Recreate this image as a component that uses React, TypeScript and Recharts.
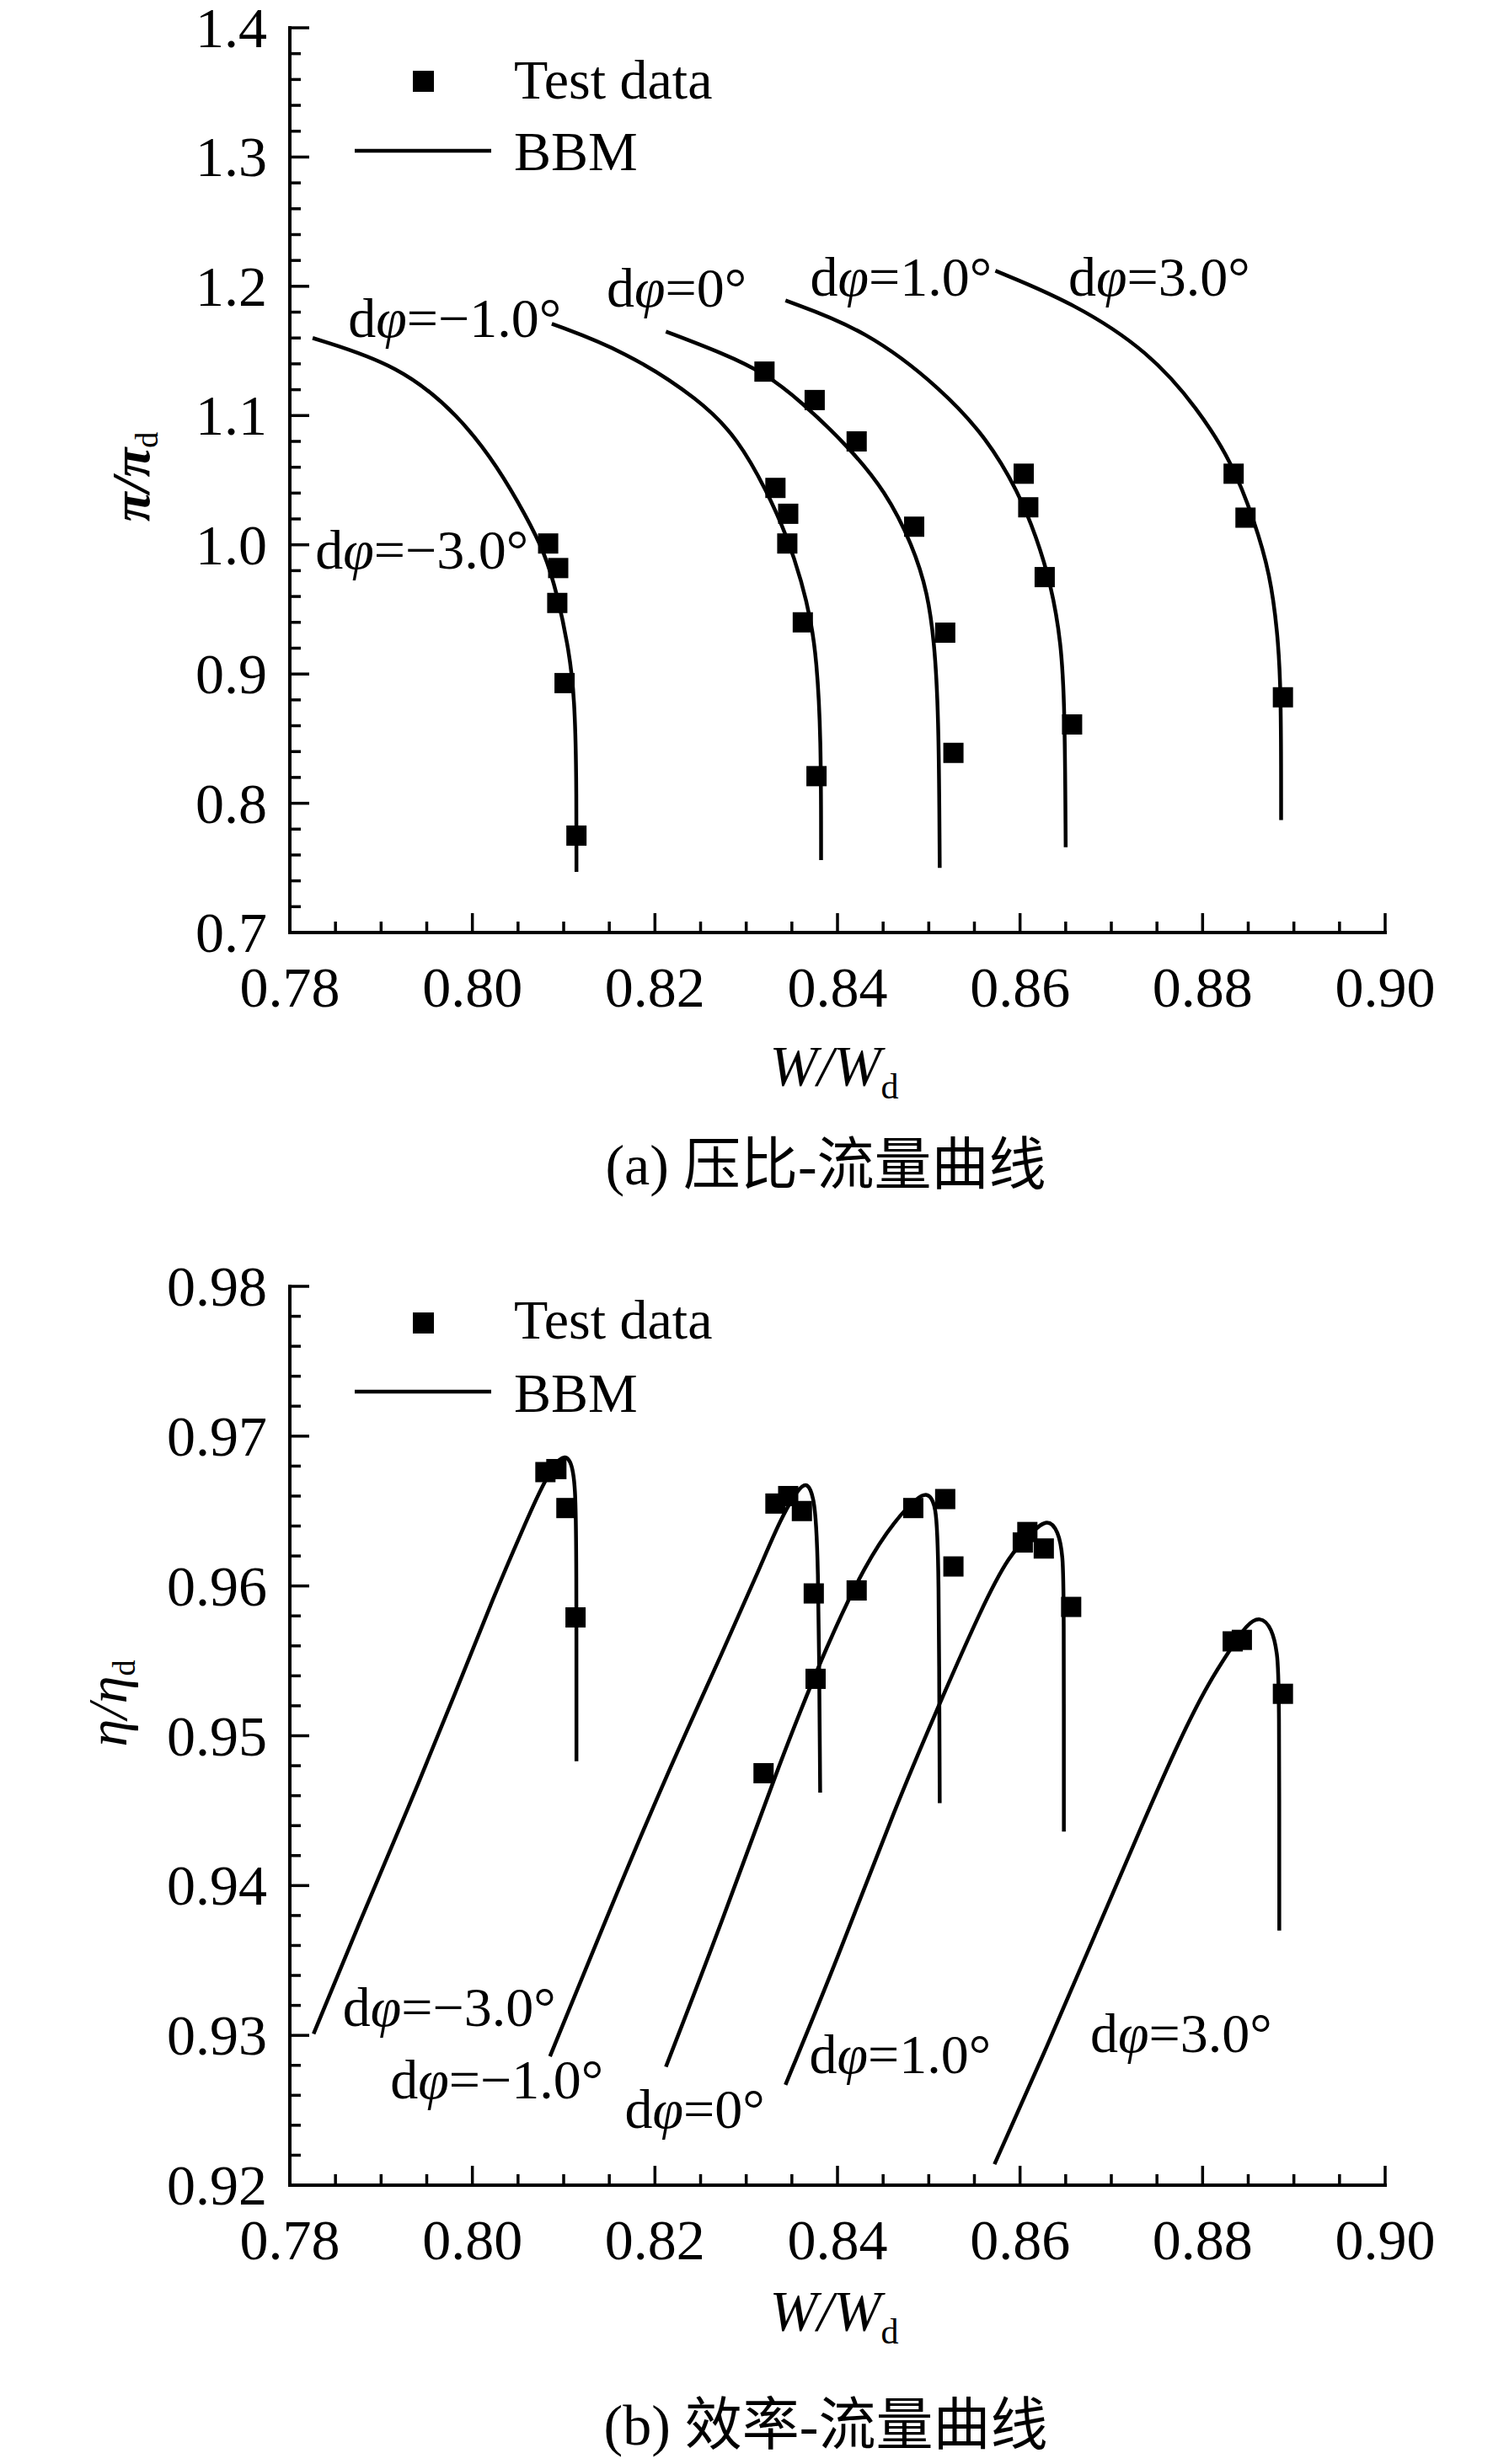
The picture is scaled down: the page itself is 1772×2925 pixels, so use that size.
import React from 'react';
import { ComposedChart, Line, Scatter, XAxis, YAxis, Legend, ReferenceDot } from 'recharts';

const SERIF = "'Liberation Serif', 'Times New Roman', serif";
const CAPTION_FONT = "'Liberation Serif', 'Noto Sans CJK SC', serif";

// axis tick labels
const FLOW_TICKS = [0.78, 0.8, 0.82, 0.84, 0.86, 0.88, 0.9];
const PR_TICKS = [0.7, 0.8, 0.9, 1.0, 1.1, 1.2, 1.3, 1.4];
const EFF_TICKS = [0.92, 0.93, 0.94, 0.95, 0.96, 0.97, 0.98];

// blade angle offsets, same order as the series below
const ANGLES = ['−3.0', '−1.0', '0', '1.0', '3.0'];

// (a) pressure ratio vs flow — BBM curves [W/Wd, π/πd]
const PR_BBM_M3 = [[0.7825, 1.16], [0.792, 1.139], [0.7986, 1.0995], [0.8028, 1.06], [0.8059, 1.022], [0.8079, 0.994], [0.8093, 0.962], [0.8106, 0.918], [0.8112, 0.881], [0.8114, 0.823], [0.8114, 0.747]];
const PR_BBM_M1 = [[0.8087, 1.171], [0.8167, 1.15], [0.825, 1.112], [0.8291, 1.082], [0.8323, 1.041], [0.8345, 1.006], [0.8361, 0.971], [0.8371, 0.941], [0.8377, 0.912], [0.8382, 0.853], [0.8382, 0.756]];
const PR_BBM_0 = [[0.8212, 1.165], [0.8275, 1.148], [0.832, 1.133], [0.836, 1.111], [0.8412, 1.076], [0.8453, 1.041], [0.8482, 1.0], [0.8499, 0.963], [0.8507, 0.919], [0.8511, 0.861], [0.8512, 0.75]];
const PR_BBM_P1 = [[0.8343, 1.189], [0.8432, 1.166], [0.8515, 1.12], [0.8564, 1.082], [0.8598, 1.041], [0.8618, 1.006], [0.8634, 0.969], [0.8645, 0.925], [0.8649, 0.875], [0.865, 0.766]];
const PR_BBM_P3 = [[0.8573, 1.212], [0.8659, 1.187], [0.8742, 1.149], [0.8795, 1.105], [0.8832, 1.064], [0.8857, 1.018], [0.8874, 0.977], [0.8882, 0.933], [0.8886, 0.89], [0.8886, 0.787]];

// (a) test data
const PR_TEST_M3 = [[0.8083, 1.001], [0.8094, 0.982], [0.8093, 0.955], [0.8101, 0.893], [0.8114, 0.775]];
const PR_TEST_M1 = [[0.8332, 1.044], [0.8346, 1.024], [0.8345, 1.001], [0.8362, 0.94], [0.8377, 0.821]];
const PR_TEST_0 = [[0.832, 1.134], [0.8375, 1.112], [0.8421, 1.08], [0.8484, 1.014], [0.8518, 0.932], [0.8527, 0.839]];
const PR_TEST_P1 = [[0.8604, 1.055], [0.8609, 1.029], [0.8627, 0.975], [0.8657, 0.861]];
const PR_TEST_P3 = [[0.8834, 1.055], [0.8847, 1.021], [0.8888, 0.882]];

// (b) efficiency vs flow — BBM curves [W/Wd, η/ηd]
const EFF_BBM_M3 = [[0.7826, 0.9301], [0.7878, 0.9378], [0.793, 0.9452], [0.7983, 0.9531], [0.8024, 0.9594], [0.8056, 0.9639], [0.8077, 0.9668], [0.8097, 0.9688], [0.8108, 0.9685], [0.8113, 0.9668], [0.8114, 0.9621], [0.8114, 0.9483]];
const EFF_BBM_M1 = [[0.8085, 0.9286], [0.815, 0.9383], [0.8212, 0.9473], [0.8275, 0.9557], [0.8317, 0.9615], [0.8337, 0.9644], [0.8358, 0.9666], [0.8367, 0.9669], [0.8374, 0.966], [0.8379, 0.9631], [0.8381, 0.9462]];
const EFF_BBM_0 = [[0.8212, 0.9279], [0.8275, 0.9378], [0.8337, 0.9483], [0.839, 0.9563], [0.8431, 0.9615], [0.8463, 0.9644], [0.8489, 0.966], [0.8499, 0.9662], [0.8508, 0.9655], [0.8511, 0.9621], [0.8512, 0.9455]];
const EFF_BBM_P1 = [[0.8343, 0.9267], [0.84, 0.9351], [0.8463, 0.9452], [0.8515, 0.9526], [0.8557, 0.9584], [0.8588, 0.9621], [0.8615, 0.9637], [0.863, 0.9645], [0.8642, 0.9637], [0.8647, 0.962], [0.8648, 0.9595], [0.8648, 0.9436]];
const EFF_BBM_P3 = [[0.8572, 0.9214], [0.863, 0.9293], [0.8682, 0.9367], [0.8734, 0.9441], [0.8776, 0.9499], [0.8807, 0.9536], [0.8833, 0.956], [0.8848, 0.9574], [0.8863, 0.958], [0.8876, 0.9572], [0.8882, 0.9555], [0.8884, 0.9535], [0.8884, 0.937]];

// (b) test data
const EFF_TEST_M3 = [[0.808, 0.9676], [0.8092, 0.9678], [0.8103, 0.9652], [0.8113, 0.9579]];
const EFF_TEST_M1 = [[0.8332, 0.9655], [0.8346, 0.966], [0.8361, 0.965], [0.8374, 0.9595], [0.8376, 0.9538], [0.8319, 0.9475]];
const EFF_TEST_0 = [[0.8421, 0.9597], [0.8483, 0.9652], [0.8518, 0.9658], [0.8527, 0.9613]];
const EFF_TEST_P1 = [[0.8603, 0.9629], [0.8608, 0.9636], [0.8626, 0.9625], [0.8656, 0.9586]];
const EFF_TEST_P3 = [[0.8833, 0.9563], [0.8843, 0.9564], [0.8888, 0.9528]];

// where the dφ labels sit (left edge, vertical middle), in data units
const PR_LABEL_POS = [[0.7828, 0.992], [0.7864, 1.1715], [0.8147, 1.195], [0.837, 1.203], [0.8653, 1.203]];
const EFF_LABEL_POS = [[0.7858, 0.9315], [0.791, 0.9267], [0.8167, 0.9247], [0.8369, 0.9284], [0.8677, 0.9298]];

const toPts = (rows: number[][]) => rows.map(([w, v]) => ({ w, v }));

function withMinor(major: number[], parts: number) {
  const out: number[] = [];
  for (let i = 0; i < major.length - 1; i++) {
    const step = (major[i + 1] - major[i]) / parts;
    for (let k = 0; k < parts; k++) out.push(+(major[i] + step * k).toFixed(6));
  }
  out.push(major[major.length - 1]);
  return out;
}

const isMajor = (majors: number[], v: number) => majors.some((m) => Math.abs(m - v) < 1e-6);

const square = (p: any) => <rect x={p.cx - 12} y={p.cy - 12} width={24} height={24} fill="#000" />;

function LegendBox({ markerY, textY, lineY, bbmY }: { markerY: number; textY: number; lineY: number; bbmY: number }) {
  return (
    <svg width={520} height={200} style={{ overflow: 'visible' }}>
      <rect x={90} y={markerY - 12} width={25} height={25} fill="#000" />
      <text x={210} y={textY} fontFamily={SERIF} fontSize={66} fill="#000">Test data</text>
      <line x1={21} x2={183} y1={lineY} y2={lineY} stroke="#000" strokeWidth={4.5} />
      <text x={210} y={bbmY} fontFamily={SERIF} fontSize={66} fill="#000">BBM</text>
    </svg>
  );
}

type PanelProps = {
  height: number;
  top: number;
  bottom: number;
  yMajors: number[];
  yDigits: number;
  curves: number[][][];
  tests: number[][][];
  labels: number[][];
  legend: { markerY: number; textY: number; lineY: number; bbmY: number };
};

function Panel({ height, top, bottom, yMajors, yDigits, curves, tests, labels, legend }: PanelProps) {
  const xTicks = withMinor(FLOW_TICKS, 4);
  const yTicks = withMinor(yMajors, 5);

  const renderXTick = (props: any) => {
    const { x, y, payload } = props;
    const major = isMajor(FLOW_TICKS, payload.value);
    return (
      <g>
        <line x1={x} x2={x} y1={y} y2={y - (major ? 23 : 13)} stroke="#000" strokeWidth={3.5} />
        {major && (
          <text x={x} y={y + 88} textAnchor="middle" fontFamily={SERIF} fontSize={68} fill="#000">
            {payload.value.toFixed(2)}
          </text>
        )}
      </g>
    );
  };

  const renderYTick = (props: any) => {
    const { x, y, payload } = props;
    const major = isMajor(yMajors, payload.value);
    return (
      <g>
        <line x1={x} x2={x + (major ? 23 : 13)} y1={y} y2={y} stroke="#000" strokeWidth={3.5} />
        {major && (
          <text x={x - 27} y={y + 23} textAnchor="end" fontFamily={SERIF} fontSize={68} fill="#000">
            {payload.value.toFixed(yDigits)}
          </text>
        )}
      </g>
    );
  };

  return (
    <ComposedChart width={1772} height={height} margin={{ top, right: 128, bottom, left: 244 }}>
      <XAxis
        type="number"
        dataKey="w"
        domain={[FLOW_TICKS[0], FLOW_TICKS[FLOW_TICKS.length - 1]]}
        ticks={xTicks}
        interval={0}
        allowDataOverflow
        height={100}
        tickSize={0}
        tickMargin={0}
        tickLine={false}
        axisLine={{ stroke: '#000', strokeWidth: 4, strokeLinecap: 'square' }}
        tick={renderXTick}
      />
      <YAxis
        type="number"
        dataKey="v"
        domain={[yMajors[0], yMajors[yMajors.length - 1]]}
        ticks={yTicks}
        interval={0}
        allowDataOverflow
        width={100}
        tickSize={0}
        tickMargin={0}
        tickLine={false}
        axisLine={{ stroke: '#000', strokeWidth: 4, strokeLinecap: 'square' }}
        tick={renderYTick}
      />
      {curves.map((c, i) => (
        <Line
          key={`bbm-${i}`}
          data={toPts(c)}
          dataKey="v"
          type="basis"
          stroke="#000"
          strokeWidth={4.5}
          dot={false}
          activeDot={false}
          isAnimationActive={false}
        />
      ))}
      {tests.map((t, i) => (
        <Scatter key={`test-${i}`} data={toPts(t)} dataKey="v" shape={square} isAnimationActive={false} />
      ))}
      {labels.map(([w, v], i) => (
        <ReferenceDot
          key={`lab-${i}`}
          x={w}
          y={v}
          r={0}
          ifOverflow="visible"
          shape={(p: any) => (
            <text x={p.cx} y={p.cy + 16} fontFamily={SERIF} fontSize={66} fill="#000">
              d<tspan fontStyle="italic">φ</tspan>={ANGLES[i]}°
            </text>
          )}
        />
      ))}
      <Legend
        layout="horizontal"
        verticalAlign="middle"
        align="center"
        wrapperStyle={{ left: 400, top: 40, width: 520, height: 200 }}
        content={() => <LegendBox {...legend} />}
      />
    </ComposedChart>
  );
}

export default function App() {
  return (
    <div style={{ position: 'absolute', left: 0, top: 0, width: 1772, height: 2925, background: '#fff' }}>
      <div style={{ position: 'absolute', left: 0, top: 0 }}>
        <Panel
          height={1460}
          top={33}
          bottom={253}
          yMajors={PR_TICKS}
          yDigits={1}
          curves={[PR_BBM_M3, PR_BBM_M1, PR_BBM_0, PR_BBM_P1, PR_BBM_P3]}
          tests={[PR_TEST_M3, PR_TEST_M1, PR_TEST_0, PR_TEST_P1, PR_TEST_P3]}
          labels={PR_LABEL_POS}
          legend={{ markerY: 56, textY: 77, lineY: 139, bbmY: 162 }}
        />
      </div>
      <div style={{ position: 'absolute', left: 0, top: 1460 }}>
        <Panel
          height={1465}
          top={67}
          bottom={231}
          yMajors={EFF_TICKS}
          yDigits={2}
          curves={[EFF_BBM_M3, EFF_BBM_M1, EFF_BBM_0, EFF_BBM_P1, EFF_BBM_P3]}
          tests={[EFF_TEST_M3, EFF_TEST_M1, EFF_TEST_0, EFF_TEST_P1, EFF_TEST_P3]}
          labels={EFF_LABEL_POS}
          legend={{ markerY: 70, textY: 89, lineY: 152, bbmY: 176 }}
        />
      </div>
      <svg width={1772} height={2925} style={{ position: 'absolute', left: 0, top: 0, pointerEvents: 'none' }}>
        <g fill="#000" fontFamily={SERIF}>
          <text x={177} y={566} transform="rotate(-90 177 566)" textAnchor="middle" fontSize={64}>
            <tspan fontStyle="italic" fontWeight="bold">π/π</tspan>
            <tspan fontSize={38} dy={10}>d</tspan>
          </text>
          <text x={990} y={1288} textAnchor="middle" fontSize={68}>
            <tspan fontStyle="italic">W/W</tspan>
            <tspan fontSize={42} dy={16}>d</tspan>
          </text>
          <text x={980} y={1406} textAnchor="middle" fontSize={68} fontFamily={CAPTION_FONT}>(a) 压比-流量曲线</text>

          <text x={150} y={2022} transform="rotate(-90 150 2022)" textAnchor="middle" fontSize={66}>
            <tspan fontStyle="italic">η/η</tspan>
            <tspan fontSize={38} dy={10}>d</tspan>
          </text>
          <text x={990} y={2766} textAnchor="middle" fontSize={68}>
            <tspan fontStyle="italic">W/W</tspan>
            <tspan fontSize={42} dy={16}>d</tspan>
          </text>
          <text x={980} y={2902} textAnchor="middle" fontSize={68} fontFamily={CAPTION_FONT}>(b) 效率-流量曲线</text>
        </g>
      </svg>
    </div>
  );
}
